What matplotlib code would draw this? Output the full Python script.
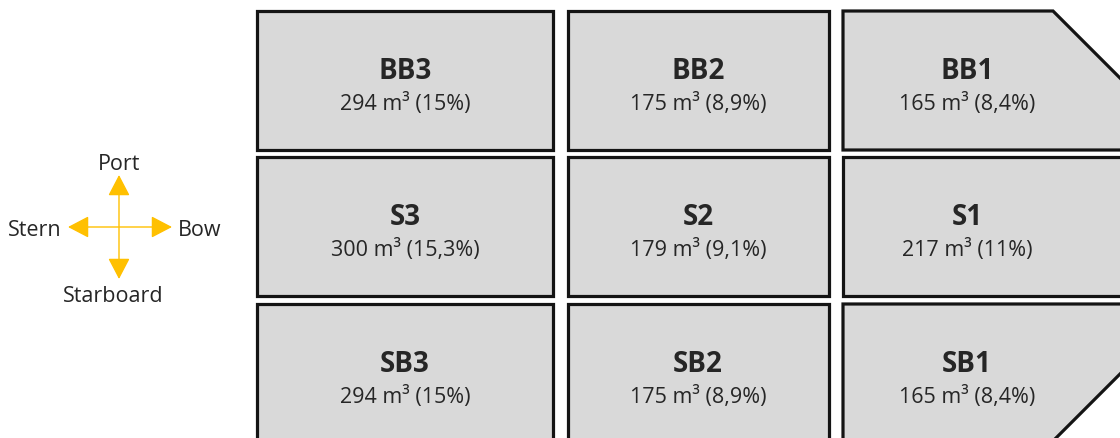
import matplotlib.pyplot as plt
from matplotlib.patches import Polygon

# tank data (rows: port / centre / starboard, cols: aft -> fore)
names = [["BB3", "BB2", "BB1"],
         ["S3", "S2", "S1"],
         ["SB3", "SB2", "SB1"]]
volumes = [[294, 175, 165],
           [300, 179, 217],
           [294, 175, 165]]
shares = [[15, 8.9, 8.4],
          [15.3, 9.1, 11],
          [15, 8.9, 8.4]]
compass = ["Port", "Stern", "Bow", "Starboard"]

# layout in pixels
col_x = [(257, 553), (568, 829), (843, 1140)]
text_x = [405, 698, 967]
row_y = [(12, 151), (158, 297), (305, 450)]

fill = "#d9d9d9"
edge = "#141414"
txt = "#262626"
gold = "#ffc000"
plt.rcParams['font.family'] = ['Open Sans', 'DejaVu Sans']

fig = plt.figure(figsize=(11.2, 4.39), dpi=100)
ax = fig.add_axes([0, 0, 1, 1])
ax.set_xlim(0, 1120)
ax.set_ylim(439, 0)
ax.axis('off')


def fmt(p):
    return ("%g" % p).replace('.', ',') + "%"


for r in range(3):
    y0, y1 = row_y[r]
    for c in range(3):
        x0, x1 = col_x[c]
        if c == 2 and r == 0:
            # bow chamfer, 45 deg starting at x=1053 on the top edge
            pts = [(x0, y0), (1053, y0), (x1, y0 + (x1 - 1053)), (x1, y1), (x0, y1)]
        elif c == 2 and r == 2:
            # bow chamfer through (1120, 375)
            pts = [(x0, y0), (x1, y0), (x1, 375 - (x1 - 1120)),
                   (1120 - (y1 - 375), y1), (x0, y1)]
        else:
            pts = [(x0, y0), (x1, y0), (x1, y1), (x0, y1)]
        poly = Polygon(pts, closed=True, facecolor=fill, edgecolor=edge, lw=2.3)
        ax.add_patch(poly)
        ax.text(text_x[c], y0 + 67, names[r][c], ha='center', va='baseline',
                fontsize=20, fontweight='bold', color=txt)
        ax.text(text_x[c], y0 + 98, "%d m³ (%s)" % (volumes[r][c], fmt(shares[r][c])),
                ha='center', va='baseline', fontsize=15.5, color=txt)

# compass
cx, cy = 119, 228
aprops = dict(arrowstyle="<|-|>,head_length=0.65,head_width=0.34", mutation_scale=20,
              color=gold, lw=1, shrinkA=0, shrinkB=0)
ax.annotate("", xy=(cx, 176), xytext=(cx, 280), arrowprops=aprops)
ax.annotate("", xy=(68, cy), xytext=(172, cy), arrowprops=aprops)
ax.text(cx, 170, compass[0], ha='center', va='baseline', fontsize=15.5, color=txt)
ax.text(62, 236, compass[1], ha='right', va='baseline', fontsize=15.5, color=txt)
ax.text(178, 236, compass[2], ha='left', va='baseline', fontsize=15.5, color=txt)
ax.text(113, 302, compass[3], ha='center', va='baseline', fontsize=15.5, color=txt)

fig.savefig("out.png", dpi=100)
